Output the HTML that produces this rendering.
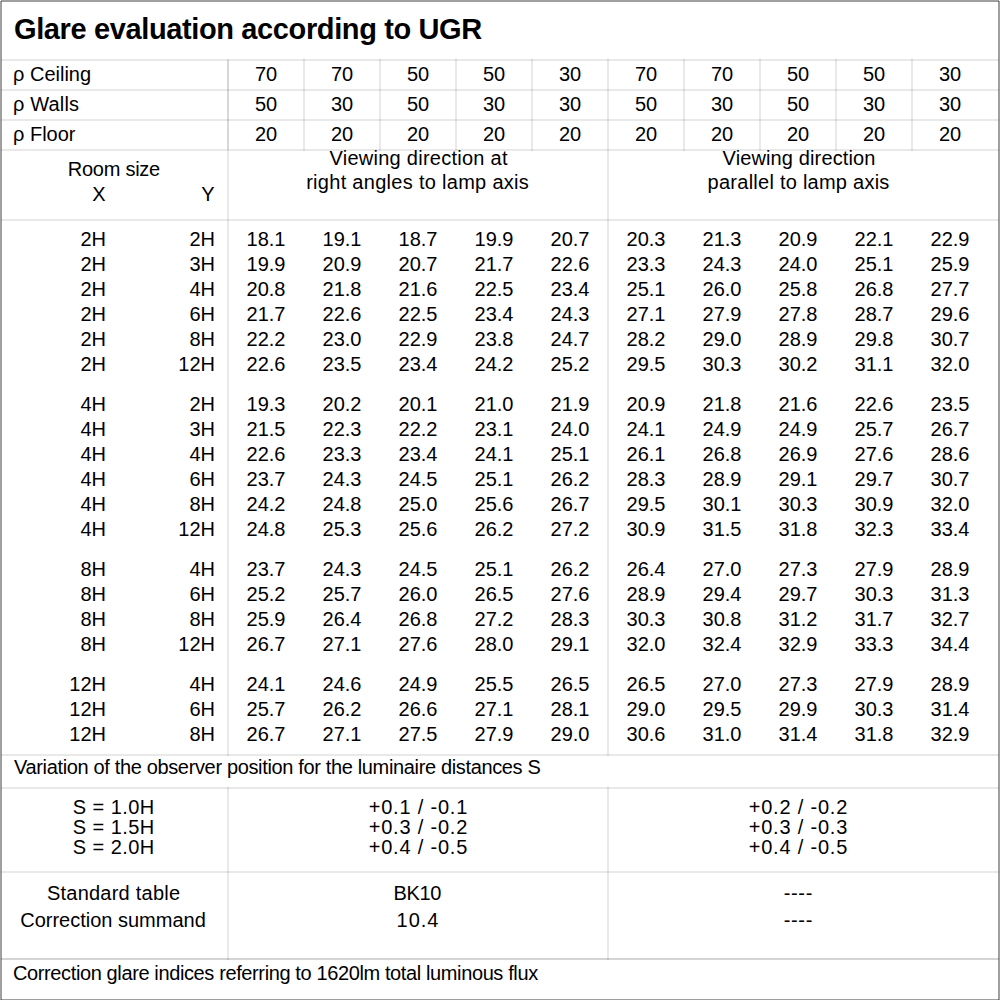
<!DOCTYPE html>
<html><head><meta charset="utf-8"><title>Glare evaluation according to UGR</title><style>
html,body{margin:0;padding:0;background:#fff;width:1000px;height:1000px;overflow:hidden}
.l{position:absolute}
.t{position:absolute;font-family:"Liberation Sans",sans-serif;font-size:20px;line-height:30px;white-space:pre;color:#000}
</style></head><body>
<div class="l" style="left:1px;top:0px;width:998px;height:1px;background:rgba(0,0,0,0.373)"></div>
<div class="l" style="left:0px;top:1px;width:1px;height:999px;background:rgba(0,0,0,0.373)"></div>
<div class="l" style="left:999px;top:1px;width:1px;height:999px;background:rgba(0,0,0,0.373)"></div>
<div class="l" style="left:1px;top:1px;width:998px;height:1px;background:rgba(0,0,0,0.38)"></div>
<div class="l" style="left:1px;top:999px;width:998px;height:1px;background:rgba(0,0,0,0.38)"></div>
<div class="l" style="left:1px;top:1px;width:1px;height:999px;background:rgba(0,0,0,0.38)"></div>
<div class="l" style="left:998px;top:1px;width:1px;height:999px;background:rgba(0,0,0,0.38)"></div>
<div class="l" style="left:1px;top:59px;width:998px;height:2px;background:rgba(0,0,0,0.086)"></div>
<div class="l" style="left:1px;top:89px;width:998px;height:2px;background:rgba(0,0,0,0.086)"></div>
<div class="l" style="left:1px;top:119px;width:998px;height:2px;background:rgba(0,0,0,0.086)"></div>
<div class="l" style="left:1px;top:149px;width:998px;height:2px;background:rgba(0,0,0,0.086)"></div>
<div class="l" style="left:1px;top:219px;width:998px;height:2px;background:rgba(0,0,0,0.086)"></div>
<div class="l" style="left:1px;top:754px;width:998px;height:2px;background:rgba(0,0,0,0.086)"></div>
<div class="l" style="left:1px;top:787px;width:998px;height:2px;background:rgba(0,0,0,0.086)"></div>
<div class="l" style="left:1px;top:871px;width:998px;height:2px;background:rgba(0,0,0,0.086)"></div>
<div class="l" style="left:1px;top:958px;width:998px;height:2px;background:rgba(0,0,0,0.086)"></div>
<div class="l" style="left:1px;top:958px;width:998px;height:2px;background:rgba(0,0,0,0.086)"></div>
<div class="l" style="left:227px;top:59px;width:2px;height:697px;background:rgba(0,0,0,0.086)"></div>
<div class="l" style="left:227px;top:60px;width:2px;height:90px;background:rgba(0,0,0,0.069)"></div>
<div class="l" style="left:227px;top:787px;width:2px;height:173px;background:rgba(0,0,0,0.086)"></div>
<div class="l" style="left:607px;top:59px;width:2px;height:697px;background:rgba(0,0,0,0.086)"></div>
<div class="l" style="left:607px;top:787px;width:2px;height:173px;background:rgba(0,0,0,0.086)"></div>
<div class="l" style="left:303px;top:59px;width:2px;height:92px;background:rgba(0,0,0,0.086)"></div>
<div class="l" style="left:379px;top:59px;width:2px;height:92px;background:rgba(0,0,0,0.086)"></div>
<div class="l" style="left:455px;top:59px;width:2px;height:92px;background:rgba(0,0,0,0.086)"></div>
<div class="l" style="left:531px;top:59px;width:2px;height:92px;background:rgba(0,0,0,0.086)"></div>
<div class="l" style="left:683px;top:59px;width:2px;height:92px;background:rgba(0,0,0,0.086)"></div>
<div class="l" style="left:759px;top:59px;width:2px;height:92px;background:rgba(0,0,0,0.086)"></div>
<div class="l" style="left:835px;top:59px;width:2px;height:92px;background:rgba(0,0,0,0.086)"></div>
<div class="l" style="left:911px;top:59px;width:2px;height:92px;background:rgba(0,0,0,0.086)"></div>
<div class="t" style="top:14px;left:14.00px;font-size:29px;font-weight:bold;letter-spacing:-0.375px;">Glare evaluation according to UGR</div>
<div class="t" style="top:59px;left:13.00px;">ρ Ceiling</div>
<div class="t" style="top:59px;left:-134.00px;width:800px;text-align:center;">70</div>
<div class="t" style="top:59px;left:-58.00px;width:800px;text-align:center;">70</div>
<div class="t" style="top:59px;left:18.00px;width:800px;text-align:center;">50</div>
<div class="t" style="top:59px;left:94.00px;width:800px;text-align:center;">50</div>
<div class="t" style="top:59px;left:170.00px;width:800px;text-align:center;">30</div>
<div class="t" style="top:59px;left:246.00px;width:800px;text-align:center;">70</div>
<div class="t" style="top:59px;left:322.00px;width:800px;text-align:center;">70</div>
<div class="t" style="top:59px;left:398.00px;width:800px;text-align:center;">50</div>
<div class="t" style="top:59px;left:474.00px;width:800px;text-align:center;">50</div>
<div class="t" style="top:59px;left:550.00px;width:800px;text-align:center;">30</div>
<div class="t" style="top:89px;left:13.00px;letter-spacing:0.167px;">ρ Walls</div>
<div class="t" style="top:89px;left:-134.00px;width:800px;text-align:center;">50</div>
<div class="t" style="top:89px;left:-58.00px;width:800px;text-align:center;">30</div>
<div class="t" style="top:89px;left:18.00px;width:800px;text-align:center;">50</div>
<div class="t" style="top:89px;left:94.00px;width:800px;text-align:center;">30</div>
<div class="t" style="top:89px;left:170.00px;width:800px;text-align:center;">30</div>
<div class="t" style="top:89px;left:246.00px;width:800px;text-align:center;">50</div>
<div class="t" style="top:89px;left:322.00px;width:800px;text-align:center;">30</div>
<div class="t" style="top:89px;left:398.00px;width:800px;text-align:center;">50</div>
<div class="t" style="top:89px;left:474.00px;width:800px;text-align:center;">30</div>
<div class="t" style="top:89px;left:550.00px;width:800px;text-align:center;">30</div>
<div class="t" style="top:119px;left:13.00px;">ρ Floor</div>
<div class="t" style="top:119px;left:-134.00px;width:800px;text-align:center;">20</div>
<div class="t" style="top:119px;left:-58.00px;width:800px;text-align:center;">20</div>
<div class="t" style="top:119px;left:18.00px;width:800px;text-align:center;">20</div>
<div class="t" style="top:119px;left:94.00px;width:800px;text-align:center;">20</div>
<div class="t" style="top:119px;left:170.00px;width:800px;text-align:center;">20</div>
<div class="t" style="top:119px;left:246.00px;width:800px;text-align:center;">20</div>
<div class="t" style="top:119px;left:322.00px;width:800px;text-align:center;">20</div>
<div class="t" style="top:119px;left:398.00px;width:800px;text-align:center;">20</div>
<div class="t" style="top:119px;left:474.00px;width:800px;text-align:center;">20</div>
<div class="t" style="top:119px;left:550.00px;width:800px;text-align:center;">20</div>
<div class="t" style="top:154px;left:-286.12px;width:800px;text-align:center;letter-spacing:-0.250px;">Room size</div>
<div class="t" style="top:179px;left:-301.00px;width:800px;text-align:center;">X</div>
<div class="t" style="top:179px;left:-192.00px;width:800px;text-align:center;">Y</div>
<div class="t" style="top:143px;left:18.63px;width:800px;text-align:center;letter-spacing:0.263px;">Viewing direction at</div>
<div class="t" style="top:167px;left:17.65px;width:800px;text-align:center;letter-spacing:0.292px;">right angles to lamp axis</div>
<div class="t" style="top:143px;left:399.06px;width:800px;text-align:center;letter-spacing:0.125px;">Viewing direction</div>
<div class="t" style="top:167px;left:398.62px;width:800px;text-align:center;letter-spacing:0.250px;">parallel to lamp axis</div>
<div class="t" style="top:224px;left:-694.00px;width:800px;text-align:right;">2H</div>
<div class="t" style="top:224px;left:-585.00px;width:800px;text-align:right;">2H</div>
<div class="t" style="top:224px;left:-134.00px;width:800px;text-align:center;">18.1</div>
<div class="t" style="top:224px;left:-58.00px;width:800px;text-align:center;">19.1</div>
<div class="t" style="top:224px;left:18.00px;width:800px;text-align:center;">18.7</div>
<div class="t" style="top:224px;left:94.00px;width:800px;text-align:center;">19.9</div>
<div class="t" style="top:224px;left:170.00px;width:800px;text-align:center;">20.7</div>
<div class="t" style="top:224px;left:246.00px;width:800px;text-align:center;">20.3</div>
<div class="t" style="top:224px;left:322.00px;width:800px;text-align:center;">21.3</div>
<div class="t" style="top:224px;left:398.00px;width:800px;text-align:center;">20.9</div>
<div class="t" style="top:224px;left:474.00px;width:800px;text-align:center;">22.1</div>
<div class="t" style="top:224px;left:550.00px;width:800px;text-align:center;">22.9</div>
<div class="t" style="top:249px;left:-694.00px;width:800px;text-align:right;">2H</div>
<div class="t" style="top:249px;left:-585.00px;width:800px;text-align:right;">3H</div>
<div class="t" style="top:249px;left:-134.00px;width:800px;text-align:center;">19.9</div>
<div class="t" style="top:249px;left:-58.00px;width:800px;text-align:center;">20.9</div>
<div class="t" style="top:249px;left:18.00px;width:800px;text-align:center;">20.7</div>
<div class="t" style="top:249px;left:94.00px;width:800px;text-align:center;">21.7</div>
<div class="t" style="top:249px;left:170.00px;width:800px;text-align:center;">22.6</div>
<div class="t" style="top:249px;left:246.00px;width:800px;text-align:center;">23.3</div>
<div class="t" style="top:249px;left:322.00px;width:800px;text-align:center;">24.3</div>
<div class="t" style="top:249px;left:398.00px;width:800px;text-align:center;">24.0</div>
<div class="t" style="top:249px;left:474.00px;width:800px;text-align:center;">25.1</div>
<div class="t" style="top:249px;left:550.00px;width:800px;text-align:center;">25.9</div>
<div class="t" style="top:274px;left:-694.00px;width:800px;text-align:right;">2H</div>
<div class="t" style="top:274px;left:-585.00px;width:800px;text-align:right;">4H</div>
<div class="t" style="top:274px;left:-134.00px;width:800px;text-align:center;">20.8</div>
<div class="t" style="top:274px;left:-58.00px;width:800px;text-align:center;">21.8</div>
<div class="t" style="top:274px;left:18.00px;width:800px;text-align:center;">21.6</div>
<div class="t" style="top:274px;left:94.00px;width:800px;text-align:center;">22.5</div>
<div class="t" style="top:274px;left:170.00px;width:800px;text-align:center;">23.4</div>
<div class="t" style="top:274px;left:246.00px;width:800px;text-align:center;">25.1</div>
<div class="t" style="top:274px;left:322.00px;width:800px;text-align:center;">26.0</div>
<div class="t" style="top:274px;left:398.00px;width:800px;text-align:center;">25.8</div>
<div class="t" style="top:274px;left:474.00px;width:800px;text-align:center;">26.8</div>
<div class="t" style="top:274px;left:550.00px;width:800px;text-align:center;">27.7</div>
<div class="t" style="top:299px;left:-694.00px;width:800px;text-align:right;">2H</div>
<div class="t" style="top:299px;left:-585.00px;width:800px;text-align:right;">6H</div>
<div class="t" style="top:299px;left:-134.00px;width:800px;text-align:center;">21.7</div>
<div class="t" style="top:299px;left:-58.00px;width:800px;text-align:center;">22.6</div>
<div class="t" style="top:299px;left:18.00px;width:800px;text-align:center;">22.5</div>
<div class="t" style="top:299px;left:94.00px;width:800px;text-align:center;">23.4</div>
<div class="t" style="top:299px;left:170.00px;width:800px;text-align:center;">24.3</div>
<div class="t" style="top:299px;left:246.00px;width:800px;text-align:center;">27.1</div>
<div class="t" style="top:299px;left:322.00px;width:800px;text-align:center;">27.9</div>
<div class="t" style="top:299px;left:398.00px;width:800px;text-align:center;">27.8</div>
<div class="t" style="top:299px;left:474.00px;width:800px;text-align:center;">28.7</div>
<div class="t" style="top:299px;left:550.00px;width:800px;text-align:center;">29.6</div>
<div class="t" style="top:324px;left:-694.00px;width:800px;text-align:right;">2H</div>
<div class="t" style="top:324px;left:-585.00px;width:800px;text-align:right;">8H</div>
<div class="t" style="top:324px;left:-134.00px;width:800px;text-align:center;">22.2</div>
<div class="t" style="top:324px;left:-58.00px;width:800px;text-align:center;">23.0</div>
<div class="t" style="top:324px;left:18.00px;width:800px;text-align:center;">22.9</div>
<div class="t" style="top:324px;left:94.00px;width:800px;text-align:center;">23.8</div>
<div class="t" style="top:324px;left:170.00px;width:800px;text-align:center;">24.7</div>
<div class="t" style="top:324px;left:246.00px;width:800px;text-align:center;">28.2</div>
<div class="t" style="top:324px;left:322.00px;width:800px;text-align:center;">29.0</div>
<div class="t" style="top:324px;left:398.00px;width:800px;text-align:center;">28.9</div>
<div class="t" style="top:324px;left:474.00px;width:800px;text-align:center;">29.8</div>
<div class="t" style="top:324px;left:550.00px;width:800px;text-align:center;">30.7</div>
<div class="t" style="top:349px;left:-694.00px;width:800px;text-align:right;">2H</div>
<div class="t" style="top:349px;left:-585.00px;width:800px;text-align:right;">12H</div>
<div class="t" style="top:349px;left:-134.00px;width:800px;text-align:center;">22.6</div>
<div class="t" style="top:349px;left:-58.00px;width:800px;text-align:center;">23.5</div>
<div class="t" style="top:349px;left:18.00px;width:800px;text-align:center;">23.4</div>
<div class="t" style="top:349px;left:94.00px;width:800px;text-align:center;">24.2</div>
<div class="t" style="top:349px;left:170.00px;width:800px;text-align:center;">25.2</div>
<div class="t" style="top:349px;left:246.00px;width:800px;text-align:center;">29.5</div>
<div class="t" style="top:349px;left:322.00px;width:800px;text-align:center;">30.3</div>
<div class="t" style="top:349px;left:398.00px;width:800px;text-align:center;">30.2</div>
<div class="t" style="top:349px;left:474.00px;width:800px;text-align:center;">31.1</div>
<div class="t" style="top:349px;left:550.00px;width:800px;text-align:center;">32.0</div>
<div class="t" style="top:389px;left:-694.00px;width:800px;text-align:right;">4H</div>
<div class="t" style="top:389px;left:-585.00px;width:800px;text-align:right;">2H</div>
<div class="t" style="top:389px;left:-134.00px;width:800px;text-align:center;">19.3</div>
<div class="t" style="top:389px;left:-58.00px;width:800px;text-align:center;">20.2</div>
<div class="t" style="top:389px;left:18.00px;width:800px;text-align:center;">20.1</div>
<div class="t" style="top:389px;left:94.00px;width:800px;text-align:center;">21.0</div>
<div class="t" style="top:389px;left:170.00px;width:800px;text-align:center;">21.9</div>
<div class="t" style="top:389px;left:246.00px;width:800px;text-align:center;">20.9</div>
<div class="t" style="top:389px;left:322.00px;width:800px;text-align:center;">21.8</div>
<div class="t" style="top:389px;left:398.00px;width:800px;text-align:center;">21.6</div>
<div class="t" style="top:389px;left:474.00px;width:800px;text-align:center;">22.6</div>
<div class="t" style="top:389px;left:550.00px;width:800px;text-align:center;">23.5</div>
<div class="t" style="top:414px;left:-694.00px;width:800px;text-align:right;">4H</div>
<div class="t" style="top:414px;left:-585.00px;width:800px;text-align:right;">3H</div>
<div class="t" style="top:414px;left:-134.00px;width:800px;text-align:center;">21.5</div>
<div class="t" style="top:414px;left:-58.00px;width:800px;text-align:center;">22.3</div>
<div class="t" style="top:414px;left:18.00px;width:800px;text-align:center;">22.2</div>
<div class="t" style="top:414px;left:94.00px;width:800px;text-align:center;">23.1</div>
<div class="t" style="top:414px;left:170.00px;width:800px;text-align:center;">24.0</div>
<div class="t" style="top:414px;left:246.00px;width:800px;text-align:center;">24.1</div>
<div class="t" style="top:414px;left:322.00px;width:800px;text-align:center;">24.9</div>
<div class="t" style="top:414px;left:398.00px;width:800px;text-align:center;">24.9</div>
<div class="t" style="top:414px;left:474.00px;width:800px;text-align:center;">25.7</div>
<div class="t" style="top:414px;left:550.00px;width:800px;text-align:center;">26.7</div>
<div class="t" style="top:439px;left:-694.00px;width:800px;text-align:right;">4H</div>
<div class="t" style="top:439px;left:-585.00px;width:800px;text-align:right;">4H</div>
<div class="t" style="top:439px;left:-134.00px;width:800px;text-align:center;">22.6</div>
<div class="t" style="top:439px;left:-58.00px;width:800px;text-align:center;">23.3</div>
<div class="t" style="top:439px;left:18.00px;width:800px;text-align:center;">23.4</div>
<div class="t" style="top:439px;left:94.00px;width:800px;text-align:center;">24.1</div>
<div class="t" style="top:439px;left:170.00px;width:800px;text-align:center;">25.1</div>
<div class="t" style="top:439px;left:246.00px;width:800px;text-align:center;">26.1</div>
<div class="t" style="top:439px;left:322.00px;width:800px;text-align:center;">26.8</div>
<div class="t" style="top:439px;left:398.00px;width:800px;text-align:center;">26.9</div>
<div class="t" style="top:439px;left:474.00px;width:800px;text-align:center;">27.6</div>
<div class="t" style="top:439px;left:550.00px;width:800px;text-align:center;">28.6</div>
<div class="t" style="top:464px;left:-694.00px;width:800px;text-align:right;">4H</div>
<div class="t" style="top:464px;left:-585.00px;width:800px;text-align:right;">6H</div>
<div class="t" style="top:464px;left:-134.00px;width:800px;text-align:center;">23.7</div>
<div class="t" style="top:464px;left:-58.00px;width:800px;text-align:center;">24.3</div>
<div class="t" style="top:464px;left:18.00px;width:800px;text-align:center;">24.5</div>
<div class="t" style="top:464px;left:94.00px;width:800px;text-align:center;">25.1</div>
<div class="t" style="top:464px;left:170.00px;width:800px;text-align:center;">26.2</div>
<div class="t" style="top:464px;left:246.00px;width:800px;text-align:center;">28.3</div>
<div class="t" style="top:464px;left:322.00px;width:800px;text-align:center;">28.9</div>
<div class="t" style="top:464px;left:398.00px;width:800px;text-align:center;">29.1</div>
<div class="t" style="top:464px;left:474.00px;width:800px;text-align:center;">29.7</div>
<div class="t" style="top:464px;left:550.00px;width:800px;text-align:center;">30.7</div>
<div class="t" style="top:489px;left:-694.00px;width:800px;text-align:right;">4H</div>
<div class="t" style="top:489px;left:-585.00px;width:800px;text-align:right;">8H</div>
<div class="t" style="top:489px;left:-134.00px;width:800px;text-align:center;">24.2</div>
<div class="t" style="top:489px;left:-58.00px;width:800px;text-align:center;">24.8</div>
<div class="t" style="top:489px;left:18.00px;width:800px;text-align:center;">25.0</div>
<div class="t" style="top:489px;left:94.00px;width:800px;text-align:center;">25.6</div>
<div class="t" style="top:489px;left:170.00px;width:800px;text-align:center;">26.7</div>
<div class="t" style="top:489px;left:246.00px;width:800px;text-align:center;">29.5</div>
<div class="t" style="top:489px;left:322.00px;width:800px;text-align:center;">30.1</div>
<div class="t" style="top:489px;left:398.00px;width:800px;text-align:center;">30.3</div>
<div class="t" style="top:489px;left:474.00px;width:800px;text-align:center;">30.9</div>
<div class="t" style="top:489px;left:550.00px;width:800px;text-align:center;">32.0</div>
<div class="t" style="top:514px;left:-694.00px;width:800px;text-align:right;">4H</div>
<div class="t" style="top:514px;left:-585.00px;width:800px;text-align:right;">12H</div>
<div class="t" style="top:514px;left:-134.00px;width:800px;text-align:center;">24.8</div>
<div class="t" style="top:514px;left:-58.00px;width:800px;text-align:center;">25.3</div>
<div class="t" style="top:514px;left:18.00px;width:800px;text-align:center;">25.6</div>
<div class="t" style="top:514px;left:94.00px;width:800px;text-align:center;">26.2</div>
<div class="t" style="top:514px;left:170.00px;width:800px;text-align:center;">27.2</div>
<div class="t" style="top:514px;left:246.00px;width:800px;text-align:center;">30.9</div>
<div class="t" style="top:514px;left:322.00px;width:800px;text-align:center;">31.5</div>
<div class="t" style="top:514px;left:398.00px;width:800px;text-align:center;">31.8</div>
<div class="t" style="top:514px;left:474.00px;width:800px;text-align:center;">32.3</div>
<div class="t" style="top:514px;left:550.00px;width:800px;text-align:center;">33.4</div>
<div class="t" style="top:554px;left:-694.00px;width:800px;text-align:right;">8H</div>
<div class="t" style="top:554px;left:-585.00px;width:800px;text-align:right;">4H</div>
<div class="t" style="top:554px;left:-134.00px;width:800px;text-align:center;">23.7</div>
<div class="t" style="top:554px;left:-58.00px;width:800px;text-align:center;">24.3</div>
<div class="t" style="top:554px;left:18.00px;width:800px;text-align:center;">24.5</div>
<div class="t" style="top:554px;left:94.00px;width:800px;text-align:center;">25.1</div>
<div class="t" style="top:554px;left:170.00px;width:800px;text-align:center;">26.2</div>
<div class="t" style="top:554px;left:246.00px;width:800px;text-align:center;">26.4</div>
<div class="t" style="top:554px;left:322.00px;width:800px;text-align:center;">27.0</div>
<div class="t" style="top:554px;left:398.00px;width:800px;text-align:center;">27.3</div>
<div class="t" style="top:554px;left:474.00px;width:800px;text-align:center;">27.9</div>
<div class="t" style="top:554px;left:550.00px;width:800px;text-align:center;">28.9</div>
<div class="t" style="top:579px;left:-694.00px;width:800px;text-align:right;">8H</div>
<div class="t" style="top:579px;left:-585.00px;width:800px;text-align:right;">6H</div>
<div class="t" style="top:579px;left:-134.00px;width:800px;text-align:center;">25.2</div>
<div class="t" style="top:579px;left:-58.00px;width:800px;text-align:center;">25.7</div>
<div class="t" style="top:579px;left:18.00px;width:800px;text-align:center;">26.0</div>
<div class="t" style="top:579px;left:94.00px;width:800px;text-align:center;">26.5</div>
<div class="t" style="top:579px;left:170.00px;width:800px;text-align:center;">27.6</div>
<div class="t" style="top:579px;left:246.00px;width:800px;text-align:center;">28.9</div>
<div class="t" style="top:579px;left:322.00px;width:800px;text-align:center;">29.4</div>
<div class="t" style="top:579px;left:398.00px;width:800px;text-align:center;">29.7</div>
<div class="t" style="top:579px;left:474.00px;width:800px;text-align:center;">30.3</div>
<div class="t" style="top:579px;left:550.00px;width:800px;text-align:center;">31.3</div>
<div class="t" style="top:604px;left:-694.00px;width:800px;text-align:right;">8H</div>
<div class="t" style="top:604px;left:-585.00px;width:800px;text-align:right;">8H</div>
<div class="t" style="top:604px;left:-134.00px;width:800px;text-align:center;">25.9</div>
<div class="t" style="top:604px;left:-58.00px;width:800px;text-align:center;">26.4</div>
<div class="t" style="top:604px;left:18.00px;width:800px;text-align:center;">26.8</div>
<div class="t" style="top:604px;left:94.00px;width:800px;text-align:center;">27.2</div>
<div class="t" style="top:604px;left:170.00px;width:800px;text-align:center;">28.3</div>
<div class="t" style="top:604px;left:246.00px;width:800px;text-align:center;">30.3</div>
<div class="t" style="top:604px;left:322.00px;width:800px;text-align:center;">30.8</div>
<div class="t" style="top:604px;left:398.00px;width:800px;text-align:center;">31.2</div>
<div class="t" style="top:604px;left:474.00px;width:800px;text-align:center;">31.7</div>
<div class="t" style="top:604px;left:550.00px;width:800px;text-align:center;">32.7</div>
<div class="t" style="top:629px;left:-694.00px;width:800px;text-align:right;">8H</div>
<div class="t" style="top:629px;left:-585.00px;width:800px;text-align:right;">12H</div>
<div class="t" style="top:629px;left:-134.00px;width:800px;text-align:center;">26.7</div>
<div class="t" style="top:629px;left:-58.00px;width:800px;text-align:center;">27.1</div>
<div class="t" style="top:629px;left:18.00px;width:800px;text-align:center;">27.6</div>
<div class="t" style="top:629px;left:94.00px;width:800px;text-align:center;">28.0</div>
<div class="t" style="top:629px;left:170.00px;width:800px;text-align:center;">29.1</div>
<div class="t" style="top:629px;left:246.00px;width:800px;text-align:center;">32.0</div>
<div class="t" style="top:629px;left:322.00px;width:800px;text-align:center;">32.4</div>
<div class="t" style="top:629px;left:398.00px;width:800px;text-align:center;">32.9</div>
<div class="t" style="top:629px;left:474.00px;width:800px;text-align:center;">33.3</div>
<div class="t" style="top:629px;left:550.00px;width:800px;text-align:center;">34.4</div>
<div class="t" style="top:669px;left:-694.00px;width:800px;text-align:right;">12H</div>
<div class="t" style="top:669px;left:-585.00px;width:800px;text-align:right;">4H</div>
<div class="t" style="top:669px;left:-134.00px;width:800px;text-align:center;">24.1</div>
<div class="t" style="top:669px;left:-58.00px;width:800px;text-align:center;">24.6</div>
<div class="t" style="top:669px;left:18.00px;width:800px;text-align:center;">24.9</div>
<div class="t" style="top:669px;left:94.00px;width:800px;text-align:center;">25.5</div>
<div class="t" style="top:669px;left:170.00px;width:800px;text-align:center;">26.5</div>
<div class="t" style="top:669px;left:246.00px;width:800px;text-align:center;">26.5</div>
<div class="t" style="top:669px;left:322.00px;width:800px;text-align:center;">27.0</div>
<div class="t" style="top:669px;left:398.00px;width:800px;text-align:center;">27.3</div>
<div class="t" style="top:669px;left:474.00px;width:800px;text-align:center;">27.9</div>
<div class="t" style="top:669px;left:550.00px;width:800px;text-align:center;">28.9</div>
<div class="t" style="top:694px;left:-694.00px;width:800px;text-align:right;">12H</div>
<div class="t" style="top:694px;left:-585.00px;width:800px;text-align:right;">6H</div>
<div class="t" style="top:694px;left:-134.00px;width:800px;text-align:center;">25.7</div>
<div class="t" style="top:694px;left:-58.00px;width:800px;text-align:center;">26.2</div>
<div class="t" style="top:694px;left:18.00px;width:800px;text-align:center;">26.6</div>
<div class="t" style="top:694px;left:94.00px;width:800px;text-align:center;">27.1</div>
<div class="t" style="top:694px;left:170.00px;width:800px;text-align:center;">28.1</div>
<div class="t" style="top:694px;left:246.00px;width:800px;text-align:center;">29.0</div>
<div class="t" style="top:694px;left:322.00px;width:800px;text-align:center;">29.5</div>
<div class="t" style="top:694px;left:398.00px;width:800px;text-align:center;">29.9</div>
<div class="t" style="top:694px;left:474.00px;width:800px;text-align:center;">30.3</div>
<div class="t" style="top:694px;left:550.00px;width:800px;text-align:center;">31.4</div>
<div class="t" style="top:719px;left:-694.00px;width:800px;text-align:right;">12H</div>
<div class="t" style="top:719px;left:-585.00px;width:800px;text-align:right;">8H</div>
<div class="t" style="top:719px;left:-134.00px;width:800px;text-align:center;">26.7</div>
<div class="t" style="top:719px;left:-58.00px;width:800px;text-align:center;">27.1</div>
<div class="t" style="top:719px;left:18.00px;width:800px;text-align:center;">27.5</div>
<div class="t" style="top:719px;left:94.00px;width:800px;text-align:center;">27.9</div>
<div class="t" style="top:719px;left:170.00px;width:800px;text-align:center;">29.0</div>
<div class="t" style="top:719px;left:246.00px;width:800px;text-align:center;">30.6</div>
<div class="t" style="top:719px;left:322.00px;width:800px;text-align:center;">31.0</div>
<div class="t" style="top:719px;left:398.00px;width:800px;text-align:center;">31.4</div>
<div class="t" style="top:719px;left:474.00px;width:800px;text-align:center;">31.8</div>
<div class="t" style="top:719px;left:550.00px;width:800px;text-align:center;">32.9</div>
<div class="t" style="top:752px;left:14.00px;letter-spacing:-0.349px;">Variation of the observer position for the luminaire distances S</div>
<div class="t" style="top:792px;left:-286.29px;width:800px;text-align:center;letter-spacing:0.429px;">S = 1.0H</div>
<div class="t" style="top:792px;left:18.40px;width:800px;text-align:center;letter-spacing:0.800px;">+0.1 / -0.1</div>
<div class="t" style="top:792px;left:398.40px;width:800px;text-align:center;letter-spacing:0.800px;">+0.2 / -0.2</div>
<div class="t" style="top:812px;left:-286.29px;width:800px;text-align:center;letter-spacing:0.429px;">S = 1.5H</div>
<div class="t" style="top:812px;left:18.40px;width:800px;text-align:center;letter-spacing:0.800px;">+0.3 / -0.2</div>
<div class="t" style="top:812px;left:398.40px;width:800px;text-align:center;letter-spacing:0.800px;">+0.3 / -0.3</div>
<div class="t" style="top:832px;left:-286.29px;width:800px;text-align:center;letter-spacing:0.429px;">S = 2.0H</div>
<div class="t" style="top:832px;left:18.40px;width:800px;text-align:center;letter-spacing:0.800px;">+0.4 / -0.5</div>
<div class="t" style="top:832px;left:398.40px;width:800px;text-align:center;letter-spacing:0.800px;">+0.4 / -0.5</div>
<div class="t" style="top:878px;left:-286.38px;width:800px;text-align:center;letter-spacing:0.231px;">Standard table</div>
<div class="t" style="top:905px;left:-287.00px;width:800px;text-align:center;">Correction summand</div>
<div class="t" style="top:878px;left:17.33px;width:800px;text-align:center;letter-spacing:-0.333px;">BK10</div>
<div class="t" style="top:905px;left:18.00px;width:800px;text-align:center;letter-spacing:1.000px;">10.4</div>
<div class="t" style="top:878px;left:398.33px;width:800px;text-align:center;letter-spacing:0.667px;">----</div>
<div class="t" style="top:905px;left:398.33px;width:800px;text-align:center;letter-spacing:0.667px;">----</div>
<div class="t" style="top:958px;left:13.00px;letter-spacing:-0.381px;">Correction glare indices referring to 1620lm total luminous flux</div>
</body></html>
